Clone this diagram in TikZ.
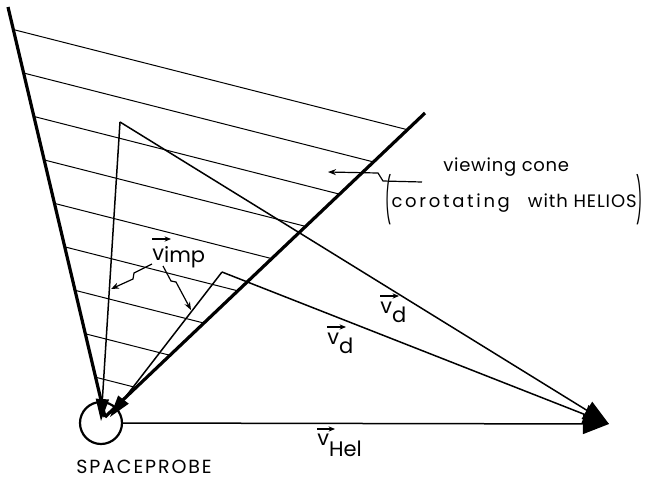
\documentclass[tikz,border=0pt]{standalone}
\usepackage{fontspec}
\usepackage{graphicx}
\setmainfont{Poppins}
\usetikzlibrary{arrows.meta,calc}
\newcommand{\tallparen}[1]{\raisebox{-0.9ex}{\scalebox{0.75}[2.5]{#1}}}
\begin{document}
\begin{tikzpicture}[x=0.5pt,y=-0.5pt,
  cone/.style={line width=1.6pt},
  hatch/.style={line width=0.5pt},
  vecline/.style={line width=0.75pt},
  leader/.style={line width=0.6pt,-{Stealth[length=4pt,width=3pt]}},
  ovarrow/.style={line width=0.6pt,-{Stealth[length=3.2pt,width=2.6pt]}},
  tipR/.style={-{Triangle[length=13pt,width=10pt]}},
  tipP/.style={-{Triangle[length=11pt,width=6.5pt]}},
  lbl/.style={font=\fontsize{9}{10}\selectfont, inner sep=1pt},
  sub/.style={font=\fontsize{10.5}{11}\selectfont, inner sep=0pt, anchor=base west}]
\useasboundingbox (0,0) rectangle (655,478);
% key points
\coordinate (L0) at (8,7);
\coordinate (R0) at (425,113);
\coordinate (V) at (105,417);
\coordinate (A1) at (120,122);
\coordinate (A2) at (222,272);
\coordinate (T) at (609,424);
\coordinate (P1) at (101,421);
\coordinate (P2) at (110,417);
\node[draw, circle, line width=1.1pt, minimum size=21pt, inner sep=0pt] (probe) at (101,423) {};
% hatching of the viewing cone
\foreach \t in {0.055,0.161,0.267,0.373,0.479,0.585,0.691,0.797,0.903}
  \draw[hatch] ($(L0)!\t!(V)$) -- ($(R0)!\t!(V)$);
% cone edges
\draw[cone] (L0) -- (V);
\draw[cone] (R0) -- (V);
% velocity vectors
\draw[vecline,tipP] (A1) -- (P1);
\draw[vecline,tipP] (A2) -- (P2);
\draw[vecline,tipR] (A1) -- (T);
\draw[vecline,tipR] (A2) -- (T);
\draw[vecline,tipR] (probe.east) -- (T);
% viewing cone labels
\node[lbl, anchor=west] (vc) at (441,167) {\addfontfeature{LetterSpace=4}viewing cone};
\node[lbl, anchor=west] (co) at (383,200) {\tallparen{(}{\addfontfeature{LetterSpace=15}corotating}\quad{\addfontfeature{LetterSpace=5}with HELIOS}\tallparen{)}};
\coordinate (vcl) at (422,182);
\draw[leader] (vcl) -- (383,181) -- (378,173) -- (328,172);
% vector labels
\node[sub] (vimp) at (152,260) {v\raisebox{-1pt}{imp}};
\draw[ovarrow] ([yshift=10.5pt]vimp.base west) -- ++(9.5pt,0);
\draw[leader] (152,264) -- (134,273) -- (133,279) -- (111,289);
\draw[leader] (163,266) -- (171,281) -- (176,282) -- (191,310);
\node[sub] (vd1) at (380,313) {v\raisebox{-4.5pt}{d}};
\draw[ovarrow] ([yshift=8.5pt]vd1.base west) -- ++(9.5pt,0);
\node[sub] (vd2) at (327,344) {v\raisebox{-4.5pt}{d}};
\draw[ovarrow] ([yshift=8.5pt]vd2.base west) -- ++(9.5pt,0);
\node[sub] (vhel) at (317,445) {v\raisebox{-5.5pt}{Hel}};
\draw[ovarrow] ([yshift=8pt]vhel.base west) -- ++(9pt,0);
\node[lbl] (sp) at (144,467) {\fontsize{9.5}{10}\selectfont\addfontfeature{LetterSpace=10}SPACEPROBE};
\end{tikzpicture}
\end{document}
